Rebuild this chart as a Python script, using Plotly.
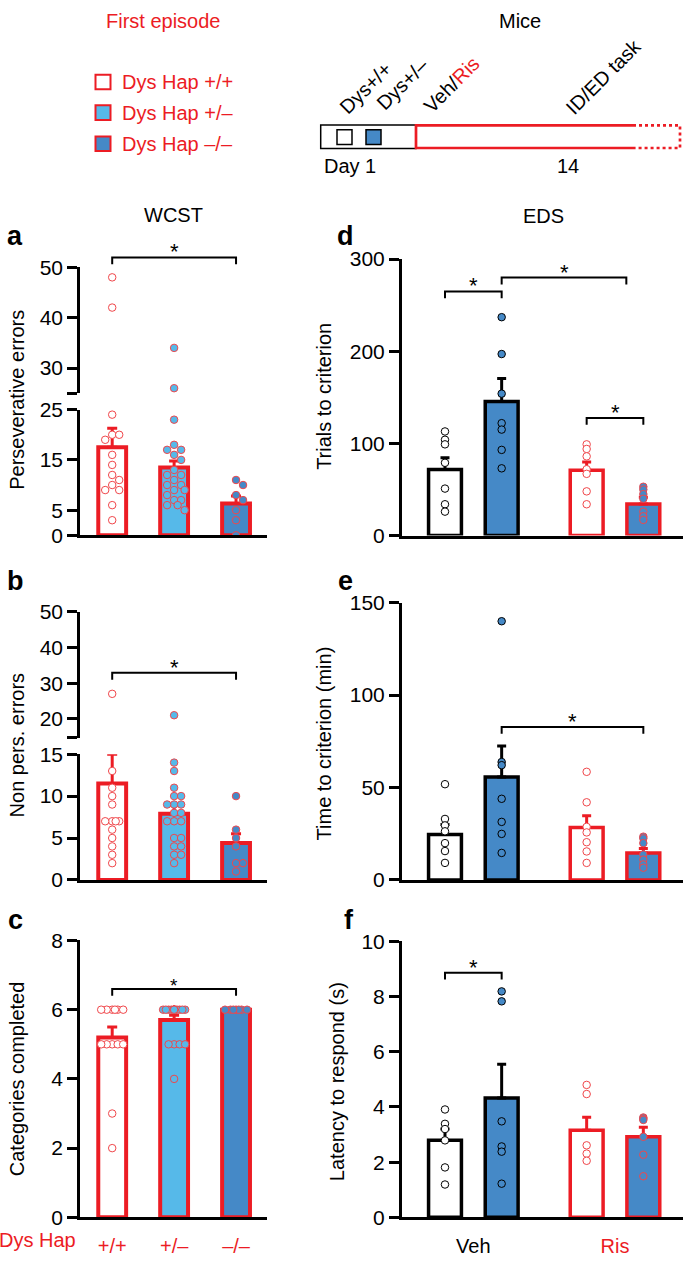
import math
import plotly.graph_objects as go

# ---------------- data ----------------
group_labels = ["+/+", "+/\u2013", "\u2013/\u2013"]
legend_names = ["Dys Hap +/+", "Dys Hap +/\u2013", "Dys Hap \u2013/\u2013"]

# a: WCST perseverative errors
a_means = [17.5, 13.5, 6.3]
a_sem = [3.8, 1.3, 1.5]
a_g1 = [48, 42, 24, 20, 20, 19, 16, 14, 12, 11, 10, 9, 9, 6, 3]
a_g2 = [34, 26, 23, 18, 17, 17, 16, 15, 13, 12, 12, 11, 10, 10, 9, 9, 8, 7, 7, 6, 6, 5]
a_g3 = [11, 10, 8, 7, 5, 3, 0]

# b: WCST non-perseverative errors
b_means = [11.5, 7.9, 4.4]
b_sem = [3.5, 1.0, 1.1]
b_g1 = [27, 13, 11, 10, 9, 7, 7, 7, 7, 6, 5, 4, 3, 2]
b_g2 = [21, 14, 13, 11, 10, 10, 9, 9, 9, 8, 8, 7, 7, 7, 5, 5, 4, 4, 3, 3, 2]
b_g3 = [10, 6, 5, 4, 2, 2, 1]

# c: categories completed
c_means = [5.2, 5.7, 6.0]
c_sem = [0.3, 0.14, 0.0]
c_g1 = [6, 6, 6, 6, 6, 6, 5, 5, 5, 5, 5, 3, 2]
c_g2 = [6, 6, 6, 6, 6, 6, 6, 6, 6, 6, 6, 6, 6, 6, 6, 6, 5, 5, 5, 5, 4]
c_g3 = [6, 6, 6, 6, 6, 6, 6]

# d-f: EDS (Veh: +/+, +/-, Ris: +/+, +/-)
eds_pos = [0, 1, 2.5, 3.5]
treat_labels = ["Veh", "Ris"]
d_means = [71.7, 145.5, 71.0, 34.4]
d_sem = [12.8, 24.9, 8.9, 7.1]
d_pts = [[113, 104, 99, 79, 51, 34, 26],
         [237, 197, 154, 122, 115, 93, 73],
         [99, 94, 86, 72, 67, 48, 34],
         [53, 50, 45, 40, 26, 21, 17]]

e_means = [24.6, 55.7, 28.4, 14.5]
e_sem = [5.4, 16.8, 6.3, 2.5]
e_pts = [[51.8, 33.0, 29.5, 26.3, 19.9, 15.6, 9.2],
         [140.0, 63.8, 62.1, 43.9, 31.4, 24.9, 14.6],
         [58.5, 42.0, 28.7, 25.7, 20.4, 15.4, 9.2],
         [23.4, 22.5, 19.9, 13.7, 11.0, 8.4, 6.6]]

f_means = [2.79, 4.33, 3.16, 2.92]
f_sem = [0.41, 1.22, 0.47, 0.35]
f_pts = [[3.91, 3.39, 3.2, 2.79, 1.81, 1.19],
         [8.19, 7.83, 3.48, 2.57, 2.38, 1.22],
         [4.8, 4.47, 2.61, 2.31, 2.05],
         [3.62, 3.58, 3.53, 2.92, 2.27, 1.49]]

# tick values
a_lo_ticks = [0, 5, 15, 25]
a_up_ticks = [25, 30, 40, 50]
b_lo_ticks = [0, 5, 10, 15]
b_up_ticks = [14.74, 20, 30, 40, 50]
c_ticks = [0, 2, 4, 6, 8]
d_ticks = [0, 100, 200, 300]
e_ticks = [0, 50, 100, 150]
f_ticks = [0, 2, 4, 6, 8, 10]

# significance brackets: (panel, x0, x1, y, star_size)
brackets = [("a_up", 0, 2, 51.95, 22), ("b_up", 0, 2, 32.9, 22), ("c", 0, 2, 6.6, 19),
            ("d", 0, 1, 264.9, 22), ("d", 1, 3.2, 280, 22), ("d", 2.5, 3.5, 127.7, 22),
            ("e", 1, 3.5, 82.8, 22), ("f", 0, 1, 8.87, 22)]

# ---------------- style / layout ----------------
W, H = 685, 1263
def XP(px): return px / W
def YP(py): return 1 - py / H

RED = "#ec1c24"
DOT_RED = "#f0474b"
LBLUE = "#56b9e9"
DBLUE = "#4589c7"
BLACK = "#000000"
FONT = "Liberation Sans"
FS = 20
TFS = 21

XR_L = [-0.52, 2.5]
XR_R = [-0.764, 4.2]

geo = {
    "a_lo": dict(n=1, xdom=(80, 267), ydom=(533, 405), yr=(0, 25), xr=XR_L),
    "a_up": dict(n=2, xdom=(80, 267), ydom=(388.3, 260), yr=(25, 50), xr=XR_L),
    "b_lo": dict(n=3, xdom=(80, 267), ydom=(884, 756), yr=(0, 15), xr=XR_L),
    "b_up": dict(n=4, xdom=(80, 267), ydom=(739, 611), yr=(14.74, 50), xr=XR_L),
    "c":    dict(n=5, xdom=(80, 267), ydom=(1227.7, 945.7), yr=(0, 8), xr=XR_L),
    "d":    dict(n=6, xdom=(401.7, 683), ydom=(533.3, 251.7), yr=(0, 300), xr=XR_R),
    "e":    dict(n=7, xdom=(401.7, 683), ydom=(884, 601.7), yr=(0, 150), xr=XR_R),
    "f":    dict(n=8, xdom=(401.7, 683), ydom=(1227.7, 946.7), yr=(0, 10), xr=XR_R),
}

def ax_id(k, letter):
    n = geo[k]["n"]
    return letter if n == 1 else f"{letter}{n}"

def val_px(k, v):
    g = geo[k]
    (p0, p1), (r0, r1) = g["ydom"], g["yr"]
    return p0 + (v - r0) / (r1 - r0) * (p1 - p0)

def x_scale(k):
    g = geo[k]
    return (g["xdom"][1] - g["xdom"][0]) / (g["xr"][1] - g["xr"][0])

def seg_px(lo, up, brk, v):
    return val_px(up, v) if v > brk else val_px(lo, v)

def swarm(vals, pxfun, diam, xs, maxoff):
    placed = []
    offs = [0.0] * len(vals)
    step = diam / 2.0
    order = sorted(range(len(vals)), key=lambda i: -vals[i])
    cands = [0.0]
    k = 1
    while k * step <= maxoff + 1e-9:
        cands += [k * step, -k * step]
        k += 1
    for i in order:
        y = pxfun(vals[i])
        best, bestd = 0.0, -1
        for c in cands:
            dmin = min([math.hypot(c - px, y - py) for px, py in placed], default=1e9)
            if dmin >= diam:
                best = c
                break
            if dmin > bestd:
                bestd, best = dmin, c
        placed.append((best, y))
        offs[i] = best / xs
    return offs

fig = go.Figure()

grp_fill = ["white", LBLUE, DBLUE]
dot_fill = ["white", LBLUE, DBLUE]

def add_wcst(lo, up, brk, means, sems, groups, diam, maxoff):
    xs = x_scale(lo)
    for i in range(3):
        fig.add_trace(go.Bar(
            x=[i], y=[means[i]], width=0.45, name=legend_names[i], showlegend=False,
            marker=dict(color=grp_fill[i], line=dict(color=RED, width=4)),
            error_y=dict(type="data", array=[sems[i]], arrayminus=[0], symmetric=False,
                         color=RED, thickness=3, width=5, visible=sems[i] > 0),
            xaxis=ax_id(lo, "x"), yaxis=ax_id(lo, "y")))
    for i, vals in enumerate(groups):
        if up is not None:
            pf = lambda v: seg_px(lo, up, brk, v)
        else:
            pf = lambda v: val_px(lo, v)
        offs = swarm(vals, pf, diam, xs, maxoff)
        for seg in ([lo] if up is None else [lo, up]):
            sel = [j for j, v in enumerate(vals) if (up is None or (v > brk) == (seg == up))]
            if not sel:
                continue
            fig.add_trace(go.Scatter(
                x=[i + offs[j] for j in sel], y=[vals[j] for j in sel], mode="markers",
                showlegend=False,
                marker=dict(size=7.5, color=dot_fill[i], line=dict(color=DOT_RED, width=1)),
                xaxis=ax_id(seg, "x"), yaxis=ax_id(seg, "y")))

add_wcst("a_lo", "a_up", 25, a_means, a_sem, [a_g1, a_g2, a_g3], 7, 12)
add_wcst("b_lo", "b_up", 15, b_means, b_sem, [b_g1, b_g2, b_g3], 7, 12)
add_wcst("c", None, None, c_means, c_sem, [c_g1, c_g2, c_g3], 5.5, 11)

eds_fill = ["white", DBLUE, "white", DBLUE]
eds_edge = [BLACK, BLACK, RED, RED]
eds_dot_edge = [BLACK, BLACK, DOT_RED, DOT_RED]

def add_eds(k, means, sems, pts):
    for i in range(4):
        fig.add_trace(go.Bar(
            x=[eds_pos[i]], y=[means[i]], width=0.58, showlegend=False,
            marker=dict(color=eds_fill[i], line=dict(color=eds_edge[i], width=3.5)),
            error_y=dict(type="data", array=[sems[i]], arrayminus=[0], symmetric=False,
                         color=eds_edge[i], thickness=3, width=4.5),
            xaxis=ax_id(k, "x"), yaxis=ax_id(k, "y")))
    for i in range(4):
        fig.add_trace(go.Scatter(
            x=[eds_pos[i]] * len(pts[i]), y=pts[i], mode="markers", showlegend=False,
            marker=dict(size=7.5, color=eds_fill[i], line=dict(color=eds_dot_edge[i], width=1)),
            xaxis=ax_id(k, "x"), yaxis=ax_id(k, "y")))

add_eds("d", d_means, d_sem, d_pts)
add_eds("e", e_means, e_sem, e_pts)
add_eds("f", f_means, f_sem, f_pts)

# ---------------- axes ----------------
tickcfg = {
    "a_lo": (a_lo_ticks, [str(t) for t in a_lo_ticks]),
    "a_up": (a_up_ticks, [""] + [str(t) for t in a_up_ticks[1:]]),
    "b_lo": (b_lo_ticks, [str(t) for t in b_lo_ticks]),
    "b_up": (b_up_ticks, [""] + [str(t) for t in b_up_ticks[1:]]),
    "c": (c_ticks, [str(t) for t in c_ticks]),
    "d": (d_ticks, [str(t) for t in d_ticks]),
    "e": (e_ticks, [str(t) for t in e_ticks]),
    "f": (f_ticks, [str(t) for t in f_ticks]),
}
layout_axes = {}
for k, g in geo.items():
    xname = "xaxis" if g["n"] == 1 else f"xaxis{g['n']}"
    yname = "yaxis" if g["n"] == 1 else f"yaxis{g['n']}"
    xa = dict(domain=[XP(g["xdom"][0]), XP(g["xdom"][1])], range=g["xr"],
              anchor=ax_id(k, "y"), showline=True, linecolor=BLACK, linewidth=2.5,
              ticks="", showgrid=False, zeroline=False, showticklabels=False, fixedrange=True)
    if k.endswith("_up"):
        xa["visible"] = False
    if k == "c":
        xa.update(showticklabels=True, tickvals=[0, 1, 2], ticktext=group_labels,
                  tickfont=dict(family=FONT, size=FS, color=RED), ticklabelstandoff=9)
    if k == "f":
        xa.update(showticklabels=True, tickvals=[0.5, 3.0],
                  ticktext=[treat_labels[0], f'<span style="color:{RED}">{treat_labels[1]}</span>'],
                  tickfont=dict(family=FONT, size=FS, color=BLACK), ticklabelstandoff=9)
    tv, tt = tickcfg[k]
    ya = dict(domain=[YP(g["ydom"][0]), YP(g["ydom"][1])], range=list(g["yr"]),
              anchor=ax_id(k, "x"), showline=True, linecolor=BLACK, linewidth=2.5,
              ticks="outside", ticklen=10, tickwidth=2.5, tickcolor=BLACK,
              tickvals=tv, ticktext=tt, tickfont=dict(family=FONT, size=TFS, color=BLACK),
              showgrid=False, zeroline=False, fixedrange=True)
    layout_axes[xname] = xa
    layout_axes[yname] = ya

# ---------------- annotations & shapes ----------------
ann = []
shapes = []

def text(px, py, s, size=FS, color=BLACK, bold=False, angle=0, xanchor="center", yanchor="middle"):
    ann.append(dict(x=XP(px), y=YP(py), xref="paper", yref="paper", text=(f"<b>{s}</b>" if bold else s),
                    showarrow=False, textangle=angle, xanchor=xanchor, yanchor=yanchor,
                    font=dict(family=FONT, size=size, color=color)))

for k, x0, x1, yv, ssize in brackets:
    py = val_px(k, yv)
    yp = YP(py)
    yd = YP(py + 7)
    xr = ax_id(k, "x")
    shapes.append(dict(type="path", xref=xr, yref="paper",
                       path=f"M {x0},{yd} L {x0},{yp} L {x1},{yp} L {x1},{yd}",
                       line=dict(color=BLACK, width=2)))
    ann.append(dict(x=(x0 + x1) / 2, y=yp, xref=xr, yref="paper", text="*", showarrow=False,
                    xanchor="center", yanchor="bottom", yshift=-9,
                    font=dict(family=FONT, size=ssize, color=BLACK)))

# titles
text(163, 9, "First episode", color=RED)
text(520, 9, "Mice")
text(173, 207, "WCST")
text(543, 208, "EDS")
# panel letters
for s, px, py in [("a", 15, 228), ("b", 15, 580), ("c", 15, 925), ("d", 345, 228), ("e", 345, 580), ("f", 349, 925)]:
    text(px, py, s, size=27, bold=True)
# y titles
text(17, 395, "Perseverative errors", angle=-90)
text(17, 747, "Non pers. errors", angle=-90)
text(17, 1087, "Categories completed", angle=-90)
text(324, 392, "Trials to criterion", angle=-90)
text(324, 745, "Time to criterion (min)", angle=-90)
text(337, 1090, "Latency to respond (s)", angle=-90)
# x group title
text(37, 1251, "Dys Hap", color=RED)

# legend key (first episode groups)
leg_y = [71.3, 102.5, 134.2]
for i, name in enumerate(legend_names):
    shapes.append(dict(type="rect", xref="paper", yref="paper",
                       x0=XP(95.5), x1=XP(110.5), y0=YP(leg_y[i] + 7.5), y1=YP(leg_y[i] - 7.5),
                       fillcolor=grp_fill[i], line=dict(color=RED, width=2)))
    text(120, leg_y[i], name, size=20, color=RED, xanchor="left")

# timeline schematic
text(365.5, 77.5, "Dys+/+", angle=-45)
text(402.5, 73.5, "Dys+/\u2013", angle=-45)
text(451, 74, f'Veh/<span style="color:{RED}">Ris</span>', angle=-45)
text(603, 65.7, "ID/ED task", angle=-45)
text(350, 157, "Day 1")
text(567.5, 157, "14")

def prect(x0, y0, x1, y1, fill, line, lw):
    shapes.append(dict(type="rect", xref="paper", yref="paper", x0=XP(x0), x1=XP(x1), y0=YP(y0), y1=YP(y1),
                       fillcolor=fill, line=dict(color=line, width=lw)))

def ppath(pts, color, lw, dash="solid"):
    p = "M " + " L ".join(f"{XP(x)},{YP(y)}" for x, y in pts)
    shapes.append(dict(type="path", xref="paper", yref="paper", path=p, line=dict(color=color, width=lw, dash=dash)))

prect(320.7, 115, 416, 139, "white", BLACK, 1.5)
prect(337, 120, 352, 135, "white", BLACK, 1.5)
prect(366, 120, 381, 135, DBLUE, BLACK, 1.5)
ppath([(633, 115.5), (416, 115.5), (416, 138.5), (633, 138.5)], RED, 2.7)
ppath([(633, 115.5), (680, 115.5), (680, 138.5), (633, 138.5)], RED, 2.7, "dot")

fig.update_layout(
    width=W, height=H, margin=dict(l=0, r=0, t=0, b=0),
    paper_bgcolor="white", plot_bgcolor="white",
    barmode="overlay", showlegend=False,
    annotations=ann, shapes=shapes, font=dict(family=FONT, size=FS, color=BLACK),
    **layout_axes)

fig.write_html("out.html", config={"displayModeBar": False},
               post_script="document.documentElement.style.margin='0';document.documentElement.style.padding='0';"
                           "document.body.style.margin='0px';document.body.style.padding='0px';"
                           "document.documentElement.style.overflow='hidden';document.body.style.overflow='hidden';")
